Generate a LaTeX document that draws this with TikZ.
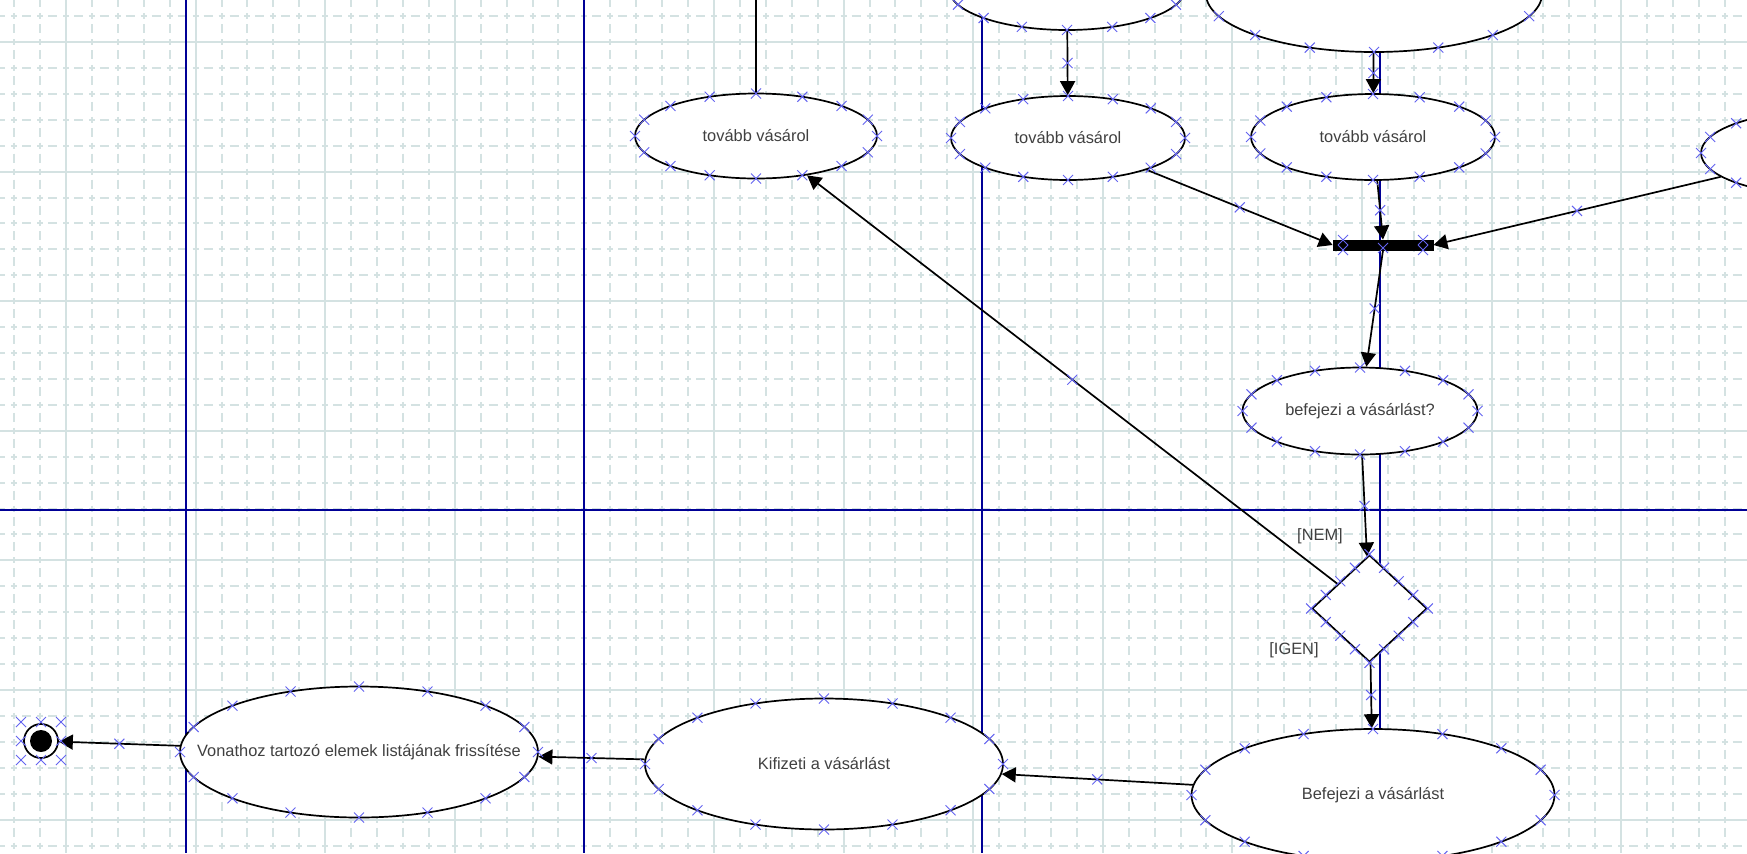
\documentclass[tikz,border=0pt]{standalone}
\usepackage{fontspec}
\setmainfont{Liberation Sans}
\usetikzlibrary{shapes.geometric,arrows.meta,calc}
\definecolor{gridc}{RGB}{212,226,226}
\definecolor{lanec}{RGB}{0,0,150}
\definecolor{xmc}{RGB}{100,100,240}
\definecolor{txtc}{RGB}{64,64,64}
\tikzset{
  act/.style={ellipse, draw=black, fill=white, line width=0.85pt, inner sep=0pt},
  dec/.style={diamond, draw=black, fill=white, line width=0.85pt, inner sep=0pt},
  txt/.style={font=\fontsize{8.2pt}{10pt}\selectfont, text=txtc, inner sep=0pt},
  conn/.style={draw=black, line width=0.85pt, -{Triangle[length=7pt,width=7.5pt]}},
  plainconn/.style={draw=black, line width=0.85pt},
  griddv/.style={draw=gridc, line width=1pt, dash pattern=on 3pt off 2.5pt on 4.5pt off 2.96pt, dash phase=6.42pt},
  griddh/.style={draw=gridc, line width=1pt, dash pattern=on 3pt off 2.5pt on 4.5pt off 2.96pt, dash phase=7.38pt},
  grids/.style={draw=gridc, line width=1pt},
  lanel/.style={draw=lanec, line width=1pt},
  xm/.pic={\draw[xmc, line width=0.5pt] (-5,-5)--(5,5) (-5,5)--(5,-5);},
}
\newcommand\ellmarks[3]{%
  \foreach \t in {0,22.5,...,337.5}
    \pic at ($(#1)+({#2*sin(\t)},{#3*cos(\t)})$) {xm};}
\begin{document}
\begin{tikzpicture}[x=0.5pt,y=-0.5pt]
\useasboundingbox (0,0) rectangle (1747,853);
\clip (0,0) rectangle (1747,853);
\fill[white] (0,0) rectangle (1747,853);
% grid
\foreach \k in {-2,...,65} \draw[griddv] ({66+25.92*\k},0) -- ({66+25.92*\k},853);
\foreach \k in {-1,...,31} \draw[griddh] (0,{42+25.92*\k}) -- (1747,{42+25.92*\k});
\foreach \k in {0,5,...,65} \draw[grids] ({66+25.92*\k},0) -- ({66+25.92*\k},853);
\foreach \k in {0,5,...,30} \draw[grids] (0,{42+25.92*\k}) -- (1747,{42+25.92*\k});
% swimlanes
\foreach \x in {186,584,982,1380} \draw[lanel] (\x,0) -- (\x,853);
\draw[lanel] (0,510) -- (1747,510);
% nodes
\node[act, minimum width=121pt, minimum height=42.5pt] (A) at (756,136) {};
\node[txt] (At) at (A) {tovább vásárol};
\node[act, minimum width=118pt, minimum height=41pt] (Mtop) at (1067,-11) {};
\node[act, minimum width=117pt, minimum height=42pt] (B) at (1068,138) {};
\node[txt] (Bt) at (B) {tovább vásárol};
\node[act, minimum width=168pt, minimum height=58pt] (C) at (1374,-6) {};
\node[act, minimum width=122pt, minimum height=43pt] (D) at (1373,137) {};
\node[txt] (Dt) at (D) {tovább vásárol};
\node[act, minimum width=120pt, minimum height=42pt] (E) at (1821,153) {};
\node[draw=black, fill=black, minimum width=50pt, minimum height=5pt, inner sep=0pt] (bar) at (1383,245) {};
\node[act, minimum width=117.5pt, minimum height=43.5pt] (F) at (1360,411) {};
\node[txt] (Ft) at (F) {befejezi a vásárlást?};
\node[dec, minimum width=57.5pt, minimum height=53.5pt] (G) at (1369.5,608.5) {};
\node[act, minimum width=181.5pt, minimum height=66pt] (H) at (1373,795) {};
\node[txt] (Ht) at (H) {Befejezi a vásárlást};
\node[act, minimum width=179pt, minimum height=65.5pt] (I) at (824,764) {};
\node[txt] (It) at (I) {Kifizeti a vásárlást};
\node[act, minimum width=179pt, minimum height=65.5pt] (J) at (359,752) {};
\node[txt] (Jt) at (J) {Vonathoz tartozó elemek listájának frissítése};
\node[circle, draw=black, fill=white, line width=0.85pt, minimum size=17pt, inner sep=0pt] (fin) at (41,741) {};
\fill[black] (fin.center) circle[radius=5.5pt];
\node[txt] (nem) at (1320,536) {[NEM]};
\node[txt] (igen) at (1294,650) {[IGEN]};
% connectors
\coordinate (topA) at (756,-5);
\draw[plainconn] (topA) -- (A);
\draw[conn] (Mtop) -- (B) coordinate[pos=.5] (m1);
\draw[conn] (C) -- (D) coordinate[pos=.5] (m2);
\draw[conn] (B) -- (bar.west) coordinate[pos=.5] (m3);
\draw[conn] (E) -- (bar.east) coordinate[pos=.5] (m4);
\draw[conn] (D) -- (bar.north) coordinate[pos=.5] (m5);
\draw[conn] (bar.south) -- (F) coordinate[pos=.5] (m6);
\draw[conn] (F) -- (G) coordinate[pos=.5] (m7);
\draw[conn] (G) -- (A) coordinate[pos=.5] (m8);
\draw[conn] (G) -- (H) coordinate[pos=.5] (m9);
\draw[conn] (H) -- (I) coordinate[pos=.5] (m10);
\draw[conn] (I) -- (J) coordinate[pos=.5] (m11);
\draw[conn] (J) -- (fin) coordinate[pos=.5] (m12);
% selection marks
\ellmarks{A}{121}{42.5}
\ellmarks{Mtop}{118}{41}
\ellmarks{B}{117}{42}
\ellmarks{C}{168}{58}
\ellmarks{D}{122}{43}
\ellmarks{E}{120}{42}
\ellmarks{F}{117.5}{43.5}
\ellmarks{H}{181.5}{66}
\ellmarks{I}{179}{65.5}
\ellmarks{J}{179}{65.5}
\foreach \a/\b in {north/east,east/south,south/west,west/north}
  \foreach \p in {0,0.25,0.5,0.75}
    \pic at ($(G.\a)!\p!(G.\b)$) {xm};
\foreach \m in {m1,m2,m3,m4,m5,m6,m7,m8,m9,m10,m11,m12} \pic at (\m) {xm};
\foreach \dx/\dy in {-20/-19,0/-19,20/-19,-20/0,20/0,-20/19,0/19,20/19}
  \pic at ($(fin)+(\dx,\dy)$) {xm};
\foreach \dx/\dy in {-40/-5,-40/5,0/3,40/-5,40/5}
  \pic at ($(bar)+(\dx,\dy)$) {xm};
\end{tikzpicture}
\end{document}
